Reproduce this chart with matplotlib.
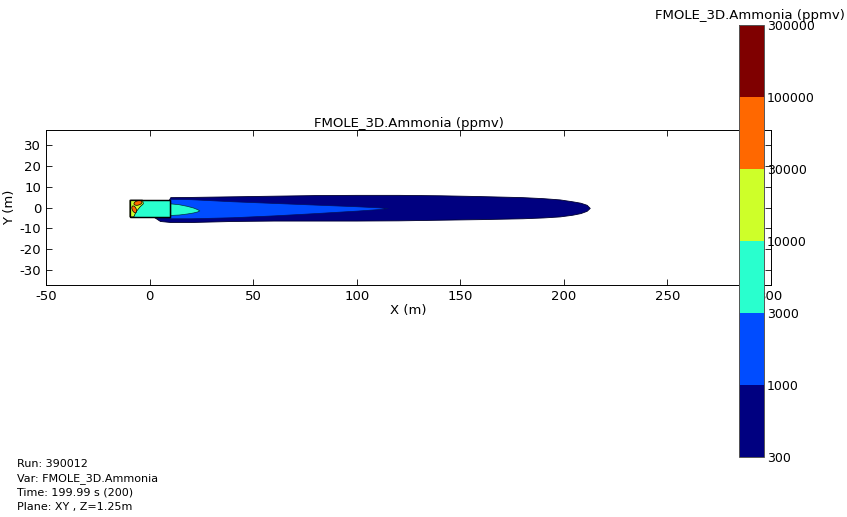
import numpy as np
import matplotlib
matplotlib.use("Agg")
import matplotlib.pyplot as plt
from matplotlib.colors import ListedColormap, BoundaryNorm
from matplotlib.colorbar import ColorbarBase
from matplotlib.patches import Ellipse, Polygon, Rectangle

plt.rcParams["axes.unicode_minus"] = False

# ---- data ----
levels = [300, 1000, 3000, 10000, 30000, 100000, 300000]
level_labels = ["300", "1000", "3000", "10000", "30000", "100000", "300000"]
band_colors = ["#000080", "#004cff", "#29ffce", "#ceff29", "#ff6800", "#7f0000"]

# outer contour (>=300 ppmv)
navy_x     = [2.0, 5.0, 10.0, 20.0, 40.0, 60.0, 80.0, 100.0, 120.0, 140.0, 160.0, 180.0, 190.0, 198.0, 204.0, 208.0, 211.0, 212.5]
navy_upper = [-4.5, -4.5, 5.0, 5.1, 5.4, 5.7, 6.0, 6.1, 6.1, 5.9, 5.5, 5.0, 4.5, 3.9, 3.0, 2.3, 1.3, -0.2]
navy_lower = [-4.5, -6.5, -7.0, -7.0, -6.5, -6.3, -6.3, -6.3, -6.2, -5.9, -5.6, -5.2, -4.8, -4.3, -3.5, -2.7, -1.6, -0.2]

# >=1000 ppmv
blue_x     = [10.0, 20.0, 40.0, 60.0, 80.0, 100.0, 110.0, 115.0]
blue_upper = [4.2, 4.0, 3.0, 2.2, 1.4, 0.6, 0.1, -0.3]
blue_lower = [-5.2, -5.2, -4.7, -3.8, -2.7, -1.5, -0.8, -0.3]

# >=3000 ppmv jet leaving the enclosure
aqua_x     = [10.0, 14.0, 18.0, 21.0, 23.0, 24.0]
aqua_upper = [2.0, 1.6, 0.8, 0.0, -0.8, -1.4]
aqua_lower = [-3.6, -3.4, -2.9, -2.4, -1.9, -1.4]

# enclosure box (x0, x1), (y0, y1)
box_x = [-9.5, 9.7]
box_y = [-4.7, 3.6]

# high concentration region inside enclosure
yellow_x = [-9.5, -9.5, -3.4, -3.0, -4.6, -6.6, -7.6]
yellow_y = [-4.5, 3.6, 3.6, 1.8, 0.3, -2.2, -4.5]
hot_cx = [-5.6, -7.4]
hot_cy = [2.2, -0.9]
hot_w = [4.0, 1.9]
hot_h = [2.1, 3.6]
hot_angle = [15, 25]

run_info = ["Run: 390012", "Var: FMOLE_3D.Ammonia", "Time: 199.99 s (200)", "Plane: XY , Z=1.25m"]

# ---- figure ----
W, H = 847, 517
fig = plt.figure(figsize=(W / 100, H / 100), dpi=100)
fig.patch.set_facecolor("white")

ax = fig.add_axes([46 / W, 1 - 285 / H, 725 / W, 155 / H])
ax.set_xlim(-50, 300)
ax.set_ylim(-37.4, 37.4)

ax.fill_between(navy_x, navy_lower, navy_upper, facecolor=band_colors[0],
                edgecolor="#000030", linewidth=0.6, zorder=2)
ax.fill_between(blue_x, blue_lower, blue_upper, facecolor=band_colors[1],
                edgecolor="#001060", linewidth=0.5, zorder=3)
ax.fill_between(aqua_x, aqua_lower, aqua_upper, facecolor=band_colors[2],
                edgecolor="#003040", linewidth=0.5, zorder=4)

ax.add_patch(Rectangle((box_x[0], box_y[0]), box_x[1] - box_x[0], box_y[1] - box_y[0],
                       facecolor=band_colors[2], edgecolor="black", linewidth=0.9, zorder=5))
ax.add_patch(Polygon(np.column_stack([yellow_x, yellow_y]), closed=True,
                     facecolor=band_colors[3], edgecolor="black", linewidth=0.5, zorder=6))
for cx, cy, w, h, a in zip(hot_cx, hot_cy, hot_w, hot_h, hot_angle):
    ax.add_patch(Ellipse((cx, cy), w, h, angle=a, facecolor=band_colors[4],
                         edgecolor="black", linewidth=0.5, zorder=7))
ax.add_patch(Rectangle((box_x[0], box_y[0]), box_x[1] - box_x[0], box_y[1] - box_y[0],
                       facecolor="none", edgecolor="black", linewidth=0.9, zorder=8))

ax.set_xticks([-50, 0, 50, 100, 150, 200, 250, 300])
ax.set_yticks([-30, -20, -10, 0, 10, 20, 30])
ax.tick_params(direction="in", top=True, right=True, labelsize=9.5, length=4, width=0.6)
for s in ax.spines.values():
    s.set_linewidth(0.7)
ax.set_xlabel("X (m)", fontsize=9.5, labelpad=1)
ax.set_ylabel("Y (m)", fontsize=9.5)
ax.yaxis.set_label_coords(-(46 - 16) / 725, 0.5)
ax.set_title("FMOLE_3D.Ammonia (ppmv)", fontsize=9.5, pad=2)

# ---- colorbar ----
cax = fig.add_axes([739 / W, 1 - 457 / H, 25 / W, 432 / H])
cmap = ListedColormap(band_colors)
norm = BoundaryNorm(levels, cmap.N)
cb = ColorbarBase(cax, cmap=cmap, norm=norm, boundaries=levels, spacing="uniform",
                  ticks=levels, orientation="vertical")
cb.set_ticklabels(level_labels)
cax.tick_params(labelsize=9, length=0, pad=2)
cb.outline.set_linewidth(0.7)
cb.outline.set_edgecolor("#555555")
fig.text(845 / W, 1 - 15 / H, "FMOLE_3D.Ammonia (ppmv)", ha="right", va="center", fontsize=9.5)

fig.text(17 / W, 1 - 459 / H, "\n".join(run_info), ha="left", va="top", fontsize=8,
         linespacing=1.5)

fig.savefig("out.png", dpi=100)
